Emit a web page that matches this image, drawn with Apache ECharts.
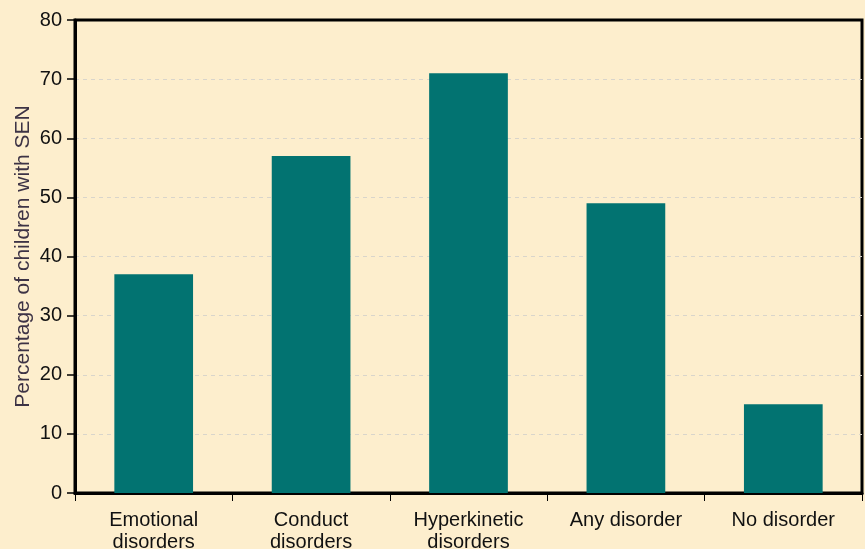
<!DOCTYPE html>
<html>
<head>
  <meta charset="utf-8">
  <script src="https://cdn.jsdelivr.net/npm/echarts@6/dist/echarts.min.js"></script>
  <style>
    html, body { margin: 0; padding: 0; background: #fdeecd; }
    #chart { width: 865px; height: 549px; }
  </style>
</head>
<body>
  <div id="chart"></div>
  <script>
    // data
    var categories = ['Emotional\ndisorders', 'Conduct\ndisorders', 'Hyperkinetic\ndisorders', 'Any disorder', 'No disorder'];
    var percentSEN = [37, 57, 71, 49, 15];
    var yTicks = { min: 0, max: 80, interval: 10 };

    var font = 'Liberation Sans, Arial, sans-serif';
    var chart = echarts.init(document.getElementById('chart'));
    chart.setOption({
      backgroundColor: '#fdeecd',
      animation: false,
      grid: {
        left: 75, right: 3, top: 20, bottom: 56,
        outerBoundsMode: 'none',
        containLabel: false,
        show: true,
        borderColor: '#000',
        borderWidth: 3,
        backgroundColor: 'transparent'
      },
      xAxis: {
        type: 'category',
        data: categories,
        axisLine: { lineStyle: { color: '#000', width: 3 } },
        axisTick: { show: true, length: 8, lineStyle: { color: '#000', width: 1 } },
        axisLabel: {
          color: '#111', fontSize: 20, lineHeight: 22, margin: 16,
          fontFamily: font, interval: 0
        }
      },
      yAxis: {
        type: 'value',
        min: yTicks.min, max: yTicks.max, interval: yTicks.interval,
        name: 'Percentage of children with SEN',
        nameLocation: 'middle',
        nameGap: 41,
        nameMoveOverlap: false,
        nameTextStyle: { color: '#3d3345', fontSize: 21, fontFamily: font },
        axisLine: { show: true, lineStyle: { color: '#000', width: 3 } },
        axisTick: { show: true, length: 8, lineStyle: { color: '#000', width: 1.5 } },
        axisLabel: { color: '#111', fontSize: 20, margin: 13, fontFamily: font },
        splitLine: {
          show: true, showMinLine: false, showMaxLine: false,
          lineStyle: { color: '#d9d5cb', type: [4, 4], width: 1 }
        }
      },
      series: [{
        type: 'bar',
        data: percentSEN,
        barWidth: '50%',
        itemStyle: { color: '#027371' }
      }]
    });
  </script>
</body>
</html>
